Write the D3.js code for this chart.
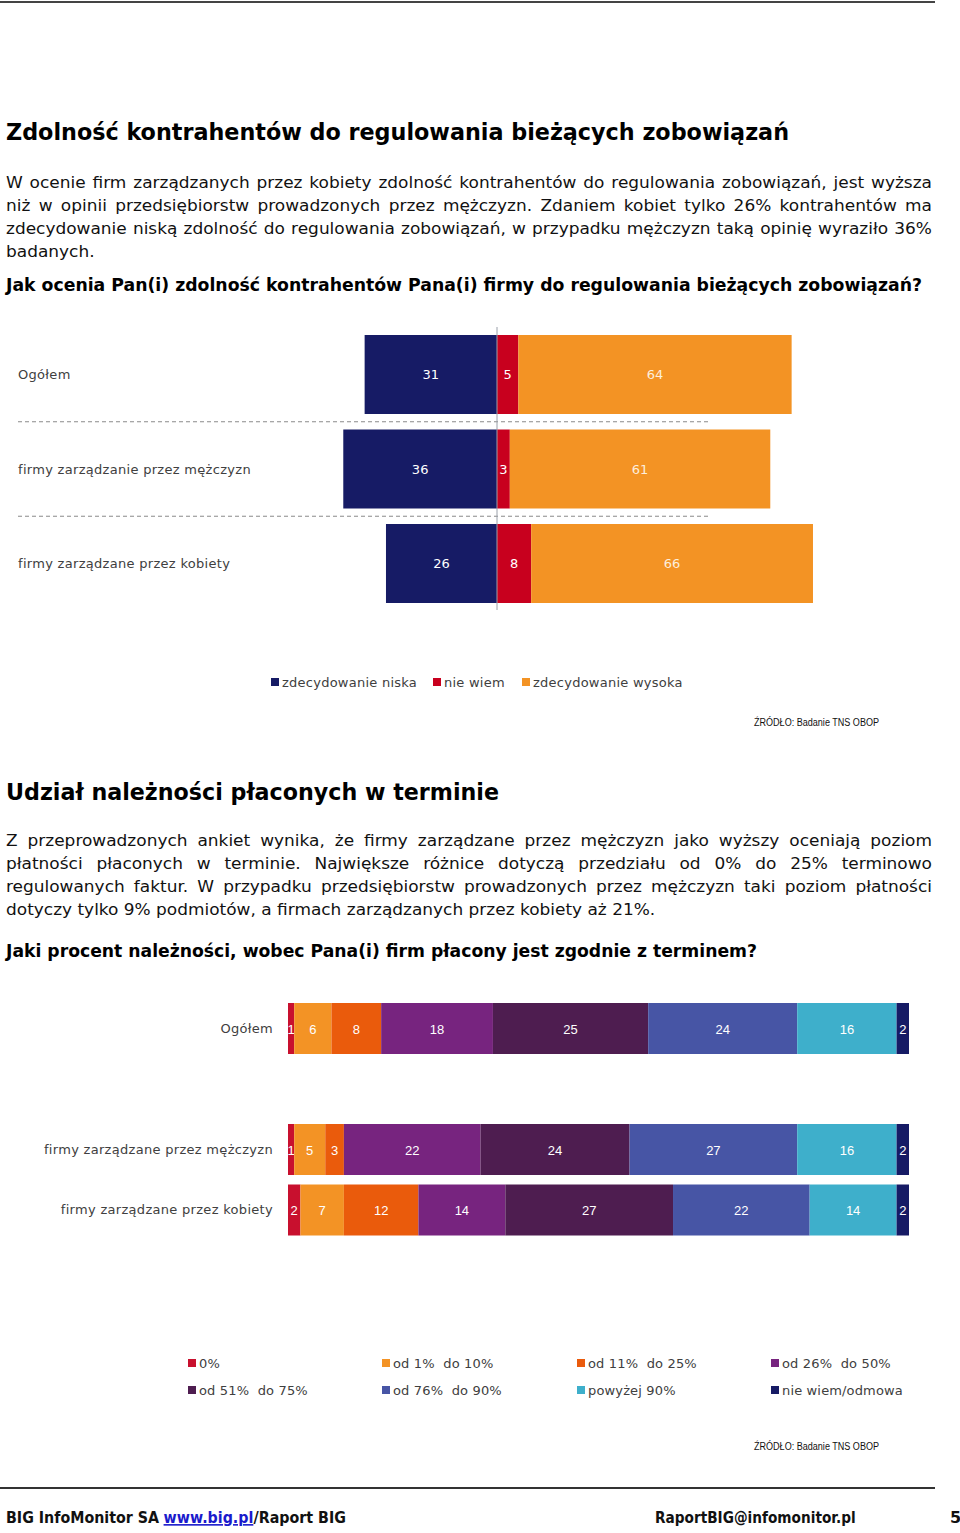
<!DOCTYPE html>
<html><head><meta charset="utf-8">
<script src="https://cdn.jsdelivr.net/npm/d3@7"></script>
<style>
html,body{margin:0;padding:0;background:#fff;}
svg{display:block;font-family:"DejaVu Sans",Verdana,sans-serif;}
</style></head>
<body><svg id="c" width="960" height="1533"></svg>
<script>
// ---------- DATA ----------
const cats1 = ["Ogółem", "firmy zarządzanie przez mężczyzn", "firmy zarządzane przez kobiety"];
const legend1 = ["zdecydowanie niska", "nie wiem", "zdecydowanie wysoka"];
const niska = [31, 36, 26];
const nieWiem = [5, 3, 8];
const wysoka = [64, 61, 66];

const cats2 = ["Ogółem", "firmy zarządzane przez mężczyzn", "firmy zarządzane przez kobiety"];
const legend2 = ["0%", "od 1%  do 10%", "od 11%  do 25%", "od 26%  do 50%", "od 51%  do 75%", "od 76%  do 90%", "powyżej 90%", "nie wiem/odmowa"];
const ogolem2 = [1, 6, 8, 18, 25, 24, 16, 2];
const mezczyzni2 = [1, 5, 3, 22, 24, 27, 16, 2];
const kobiety2 = [2, 7, 12, 14, 27, 22, 14, 2];

const title1 = "Zdolność kontrahentów do regulowania bieżących zobowiązań";
const para1 = [
  "W ocenie firm zarządzanych przez kobiety zdolność kontrahentów do regulowania zobowiązań, jest wyższa",
  "niż w opinii przedsiębiorstw prowadzonych przez mężczyzn. Zdaniem kobiet tylko 26% kontrahentów ma",
  "zdecydowanie niską zdolność do regulowania zobowiązań, w przypadku mężczyzn taką opinię wyraziło 36%",
  "badanych."
];
const question1 = "Jak ocenia Pan(i) zdolność kontrahentów Pana(i) firmy do regulowania bieżących zobowiązań?";
const title2 = "Udział należności płaconych w terminie";
const para2 = [
  "Z przeprowadzonych ankiet wynika, że firmy zarządzane przez mężczyzn jako wyższy oceniają poziom",
  "płatności płaconych w terminie. Największe różnice dotyczą przedziału od 0% do 25% terminowo",
  "regulowanych faktur. W przypadku przedsiębiorstw prowadzonych przez mężczyzn taki poziom płatności",
  "dotyczy tylko 9% podmiotów, a firmach zarządzanych przez kobiety aż 21%."
];
const question2 = "Jaki procent należności, wobec Pana(i) firm płacony jest zgodnie z terminem?";
const sourceText = "ŹRÓDŁO: Badanie TNS OBOP";
const footerLeft = ["BIG InfoMonitor SA", "www.big.pl", "/Raport BIG"];
const footerRight = "RaportBIG@infomonitor.pl";
const pageNo = "5";

// ---------- STYLE ----------
const colors1 = ["#161b65", "#c8001e", "#f39324"];
const colors2 = ["#c8102e", "#f39325", "#ea5b0c", "#77247f", "#4e1d50", "#4755a5", "#3eafcb", "#161b65"];
const labelColor = "#404040";

const svg = d3.select("#c");
svg.append("rect").attr("width", 960).attr("height", 1533).attr("fill", "#fff");

// top & bottom rules
svg.append("line").attr("x1", 0).attr("x2", 935).attr("y1", 2).attr("y2", 2).attr("stroke", "#444").attr("stroke-width", 2);
svg.append("line").attr("x1", 0).attr("x2", 935).attr("y1", 1488).attr("y2", 1488).attr("stroke", "#333").attr("stroke-width", 2);

function fitText(txt, x, y, w, size, weight, fam, color) {
  return svg.append("text").attr("x", x).attr("y", y)
    .attr("font-size", size).attr("font-weight", weight || "normal")
    .attr("font-family", fam || null)
    .attr("fill", color || "#000")
    .attr("textLength", w).attr("lengthAdjust", "spacingAndGlyphs")
    .text(txt);
}

// common horizontal scale for paragraph text
const PS = 16.5;
const probe = svg.append("text").attr("font-size", PS).text(para2[3]);
const sx = 650 / probe.node().getComputedTextLength();
probe.remove();

function paragraph(lines, ys) {
  const g = svg.append("g").attr("transform", `translate(6,0) scale(${sx},1)`).attr("fill", "#111");
  const target = 926 / sx;
  lines.forEach((line, i) => {
    if (i === lines.length - 1) {
      g.append("text").attr("x", 0).attr("y", ys[i]).attr("font-size", PS).text(line);
      return;
    }
    const words = line.split(" ");
    const ts = words.map(w => g.append("text").attr("y", ys[i]).attr("font-size", PS).text(w));
    const widths = ts.map(t => t.node().getComputedTextLength());
    const gap = (target - d3.sum(widths)) / (words.length - 1);
    let x = 0;
    ts.forEach((t, k) => { t.attr("x", x); x += widths[k] + gap; });
  });
}

// ---------- SECTION 1 TEXT ----------
fitText(title1, 6, 140, 783, 23, "bold");
paragraph(para1, [188, 211, 234, 257]);
fitText(question1, 6, 291, 916, 17, "bold");

// ---------- CHART 1 ----------
const x1 = d3.scaleLinear().domain([-40, 80]).range([326.2, 838.6]);
const y1 = d3.scaleBand().domain(cats1).range([335, 603]).paddingInner(0.164).paddingOuter(0);

const rows1 = cats1.map((c, i) => ({ cat: c, segs: [
  { k: 0, v: niska[i], a: -niska[i], b: 0 },
  { k: 1, v: nieWiem[i], a: 0, b: nieWiem[i] },
  { k: 2, v: wysoka[i], a: nieWiem[i], b: nieWiem[i] + wysoka[i] }
]}));

const g1 = svg.append("g");
rows1.forEach(r => {
  r.segs.forEach(s => {
    g1.append("rect").attr("x", x1(s.a)).attr("width", x1(s.b) - x1(s.a))
      .attr("y", y1(r.cat)).attr("height", y1.bandwidth()).attr("fill", colors1[s.k]);
    g1.append("text").attr("x", (x1(s.a) + x1(s.b)) / 2).attr("y", y1(r.cat) + y1.bandwidth() / 2)
      .attr("text-anchor", "middle").attr("dominant-baseline", "central")
      .attr("font-size", 13).attr("fill", s.k === 2 ? "#fdeedd" : "#fff").text(s.v);
  });
  g1.append("text").attr("x", 18).attr("y", y1(r.cat) + y1.bandwidth() / 2)
    .attr("dominant-baseline", "central").attr("font-size", 13).attr("letter-spacing", 0.3)
    .attr("fill", labelColor).text(r.cat);
});
// dashed separators
cats1.slice(0, -1).forEach(c => {
  const yy = y1(c) + y1.bandwidth() + (y1.step() - y1.bandwidth()) / 2;
  g1.append("line").attr("x1", 18).attr("x2", 711).attr("y1", yy).attr("y2", yy)
    .attr("stroke", "#8a8a8a").attr("stroke-width", 1).attr("stroke-dasharray", "4,3");
});
// zero line
g1.append("line").attr("x1", x1(0)).attr("x2", x1(0)).attr("y1", 327).attr("y2", 610)
  .attr("stroke", "#9aa0aa").attr("stroke-width", 1);

// legend 1
const leg1x = [271, 433, 522];
legend1.forEach((t, i) => {
  svg.append("rect").attr("x", leg1x[i]).attr("y", 678).attr("width", 8).attr("height", 8).attr("fill", colors1[i]);
  svg.append("text").attr("x", leg1x[i] + 11).attr("y", 682).attr("dominant-baseline", "central")
    .attr("font-size", 13).attr("letter-spacing", 0.25).attr("fill", labelColor).text(t);
});
fitText(sourceText, 754, 726, 125, 10, "normal", "Liberation Sans Narrow, Liberation Sans, Arial", "#111");

// ---------- SECTION 2 TEXT ----------
fitText(title2, 6, 800, 493, 23, "bold");
paragraph(para2, [846, 869, 892, 915]);
fitText(question2, 6, 957, 751, 17, "bold");

// ---------- CHART 2 ----------
const GAP = " ";
const x2 = d3.scaleLinear().domain([0, 100]).range([288, 909]);
const y2 = d3.scaleBand().domain([cats2[0], GAP, cats2[1], cats2[2]]).range([1003, 1235.5]).paddingInner(0.157).paddingOuter(0);
const vals2 = [ogolem2, mezczyzni2, kobiety2];
const g2 = svg.append("g");
cats2.forEach((c, i) => {
  let acc = 0;
  vals2[i].forEach((v, k) => {
    const a = acc, b = acc + v; acc = b;
    g2.append("rect").attr("x", x2(a)).attr("width", x2(b) - x2(a))
      .attr("y", y2(c)).attr("height", y2.bandwidth()).attr("fill", colors2[k]);
    g2.append("text").attr("x", (x2(a) + x2(b)) / 2).attr("y", y2(c) + y2.bandwidth() / 2 + 1)
      .attr("text-anchor", "middle").attr("dominant-baseline", "central")
      .attr("font-family", "Liberation Sans, Arial, sans-serif")
      .attr("font-size", 13).attr("fill", "#fff").text(v);
  });
  g2.append("text").attr("x", 273).attr("y", y2(c) + y2.bandwidth() / 2)
    .attr("text-anchor", "end").attr("dominant-baseline", "central")
    .attr("font-size", 13).attr("letter-spacing", 0.3).attr("fill", labelColor).text(c);
});

// legend 2
const leg2x = [188, 382, 577, 771];
const leg2y = [1363, 1390];
legend2.forEach((t, i) => {
  const cx = leg2x[i % 4], cy = leg2y[Math.floor(i / 4)];
  svg.append("rect").attr("x", cx).attr("y", cy - 4).attr("width", 8).attr("height", 8).attr("fill", colors2[i]);
  svg.append("text").attr("x", cx + 11).attr("y", cy).attr("dominant-baseline", "central")
    .attr("xml:space", "preserve").style("white-space", "pre")
    .attr("font-size", 13).attr("letter-spacing", 0.15).attr("fill", labelColor).text(t);
});
fitText(sourceText, 754, 1450, 125, 10, "normal", "Liberation Sans Narrow, Liberation Sans, Arial", "#111");

// ---------- FOOTER ----------
function scaledRun(parts, colors, x0, y, width, size) {
  const g = svg.append("g");
  const ts = parts.map((p, i) => g.append("text").attr("y", 0).attr("font-size", size).attr("font-weight", "bold")
    .attr("fill", colors[i]).text(p));
  const ws = ts.map(t => t.node().getComputedTextLength());
  const space = size * 0.3;
  let x = 0;
  ts.forEach((t, i) => { t.attr("x", x); x += ws[i] + (i === 0 ? space : 0); });
  const s = width / x;
  g.attr("transform", `translate(${x0},${y}) scale(${s},1)`);
  return ts;
}
const fl = scaledRun(footerLeft, ["#111", "#1a1acc", "#111"], 6, 1523, 340, 16);
fl[1].attr("text-decoration", "underline");
scaledRun([footerRight], ["#111"], 655, 1523, 205, 16);
svg.append("text").attr("x", 950).attr("y", 1523).attr("font-size", 16).attr("font-weight", "bold").attr("fill", "#111").text(pageNo);
</script>
</body></html>
